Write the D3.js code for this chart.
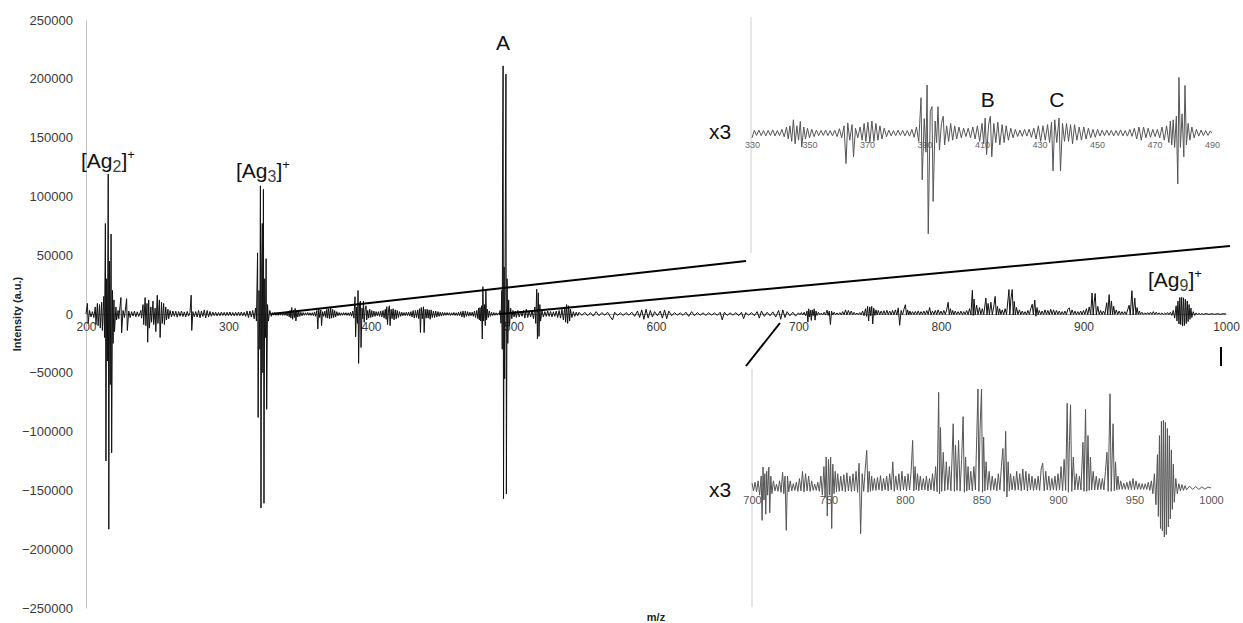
<!DOCTYPE html>
<html>
<head>
<meta charset="utf-8">
<script src="https://cdn.jsdelivr.net/npm/d3@7"></script>
<style>
  body { margin: 0; background: #fff; }
  svg { display: block; font-family: "Liberation Sans", Arial, sans-serif; }
</style>
</head>
<body>
<div class="canvas"></div>
<script>
// m/z, intensity pairs (200 - 330)
const spec200 = [
  [200, 0], [201, 9000], [201.5, -8000], [202.5, 3000], [203.5, -2500], [204.5, 2000], [205.5, -3000], [206.5, 6000], [207, -9000],
  [208, 9000], [208.5, -10000], [209.5, 8000], [210, -12000], [211, 10000], [211.5, -14000], [212.5, 15000], [213, -20000],
  [213.6, 77000], [214, -125000], [214.5, 30000], [215, -40000], [215.6, 119000], [216, -183000], [216.5, 45000], [217, -60000],
  [217.6, 68000], [218, -118000], [218.6, 20000], [219, -25000], [219.6, 12000], [220, -15000], [221, 6000], [221.5, -5000],
  [222.5, 3000], [223, -4000], [224.5, 14000], [225, -16000], [226, 3000], [227, -3000], [228.5, 13000], [229, -14000], [230, 2500],
  [231, -3000], [232, 2000], [233, -1800], [234, 2500], [235, -2400], [236, 1900], [237, -2100], [238.5, 3000], [239, -3500],
  [240, 8000], [240.5, -9000], [241.5, 14000], [242, -10000], [242.8, 9000], [243.3, -24000], [244, 12000], [244.5, -12000],
  [245.5, 6000], [246, -7000], [247, 11000], [247.5, -9000], [248.5, 5000], [249, -15000], [250, 16000], [250.5, -8000],
  [251.5, 12000], [252, -20000], [253, 10000], [253.5, -8000], [254.5, 9000], [255, -9000], [256, 6000], [256.5, -5000],
  [257.5, 4000], [258, -4000], [259, 3000], [260, -2500], [261, 2600], [262, -2000], [263, 2400], [264, -2700], [265, 2100],
  [266, -1900], [267, 2500], [268, -2200], [269, 1800], [270, -2500], [271, 2200], [272, -1800], [273, 1500], [273.8, 16000],
  [274.2, -14000], [275, 2000], [276, -2300], [277, 2100], [278, -2600], [279, 3000], [280, -3200], [281, 2500], [282, -2100],
  [283, 3500], [284, -3400], [285, 3000], [286, -2500], [287, 2200], [288, -1900], [289, 1600], [290, -1400], [291, 1500],
  [292, -1700], [293, 1300], [294, -1500], [295, 1600], [296, -1300], [297, 1400], [298, -1600], [299, 1500], [300, -1400],
  [301, 1700], [302, -1500], [303, 1300], [304, -1600], [305, 1500], [306, -1400], [307, 1600], [308, -1500], [309, 1700],
  [310, -1600], [311, 1500], [312, -2000], [313, 2500], [314, -3000], [315, 2600], [316, -2500], [317, 3000], [318, -4000],
  [319, 5000], [319.6, -6000],
  [320.4, 52000], [320.8, -88000], [321.4, 20000], [322, -30000], [322.4, 109000], [322.8, -165000], [323.3, 40000],
  [323.7, 77000], [324.1, -50000], [324.5, 106000], [324.9, -161000], [325.4, 30000], [326, -20000], [326.4, 47000],
  [326.8, -81000], [327.4, 8000], [328, -6000], [329, 3000], [330, -2000]
];

// 330 - 490 (also shown in the upper x3 inset)
const spec330 = [
  [330.8, 1100], [331.6, -1000], [332.4, 1200], [333.2, -1100], [334, 1000], [334.8, -1200], [335.6, 1100], [336.4, -1000],
  [337.2, 1300], [338, -1200], [338.8, 1000], [339.6, -1100], [340.4, 1500], [341.2, -1600], [342, 2500], [342.6, -2500],
  [343.2, 3000], [343.8, -3500], [344.4, 5500], [345, -4500], [345.6, 3000], [346.2, -3000], [346.8, 4800], [347.3, -5900],
  [348, 2500], [348.6, -2500], [349.3, 2000], [350, -2000], [350.8, 1500], [351.6, -1500], [352.4, 1200], [353.2, -1100],
  [354, 1000], [354.8, -1000], [355.6, 1200], [356.4, -1100], [357.2, 1000], [358, -1200], [358.8, 1100], [359.6, -1500],
  [360.4, 1800], [361.2, -2000], [362, 3000], [362.7, -12700], [363.3, 4200], [364, -3000], [364.8, 3500], [365.3, -9900],
  [366, 2000], [366.8, -2000], [367.6, 2500], [368.3, -3000], [369, 4000], [369.6, -3500], [370.3, 4500], [371, -4000],
  [371.7, 5000], [372.4, -3500], [373.1, 4000], [373.8, -3000], [374.5, 3000], [375.2, -2500], [376, 2000], [376.8, -1500],
  [377.6, 1200], [378.4, -1200], [379.2, 1000], [380, -1100], [380.8, 1200], [381.6, -1000], [382.4, 1100], [383.2, -1200],
  [384, 1000], [384.8, -1300], [385.6, 1500], [386.4, -1800], [387.2, 2500], [388, -3500], [388.8, 14700], [389.2, -19500],
  [389.9, 6000], [390.5, -8000], [390.9, 20000], [391.3, -42000], [392, 9000], [392.6, 11000], [393, -28500], [393.7, 5000],
  [394.2, -4000], [394.7, 11000], [395.2, -7100], [395.9, 4000], [396.5, 7000], [397, -5000], [397.7, 3000], [398.4, -3500],
  [399.1, 4000], [399.8, -3000], [400.5, 3000], [401.2, -2500], [402, 2500], [402.8, -2000], [403.6, 2000], [404.4, -1500],
  [405.2, 2000], [406, -2000], [406.8, 2500], [407.6, -2500], [408.4, 3000], [409.2, -3500], [410, 4000], [410.6, -4500],
  [411.1, 6200], [411.6, -9000], [412.3, 3500], [412.9, 7000], [413.4, -9900], [414.1, 4000], [414.8, -4000], [415.5, 4500],
  [416.2, -5000], [417, 3500], [417.7, -4000], [418.4, 3000], [419.2, -3000], [420, 2000], [420.8, -2000], [421.6, 1500],
  [422.4, -1500], [423.2, 1200], [424, -1400], [424.8, 1500], [425.6, -1300], [426.4, 1600], [427.2, -1800], [428, 2000],
  [428.8, -2500], [429.6, 3000], [430.4, -3500], [431.2, 3000], [432, -3000], [432.8, 3500], [433.5, -4000], [434.2, 4500],
  [434.7, -15800], [435.3, 5500], [436, -4000], [436.8, 6200], [437.3, -15800], [438, 4000], [438.7, -3500], [439.4, 4000],
  [440.1, -3500], [440.8, 3500], [441.5, -4500], [442.2, 3500], [443, -3000], [443.8, 2500], [444.6, -3000], [445.4, 2500],
  [446.2, -2500], [447, 2000], [447.8, -2000], [448.6, 1500], [449.4, -1800], [450.2, 1500], [451, -1300], [451.8, 1200],
  [452.6, -1100], [453.4, 1200], [454.2, -1000], [455, 1100], [455.8, -1200], [456.6, 1000], [457.4, -1100], [458.2, 1300],
  [459, -1200], [459.8, 1000], [460.6, -1300], [461.4, 1500], [462.2, -1400], [463, 2000], [463.8, -2500], [464.6, 2500],
  [465.4, -3000], [466.2, 2500], [467, -2000], [467.8, 2000], [468.6, -1800], [469.4, 1500], [470.2, -1500], [471, 1500],
  [471.8, -2000], [472.6, 2500], [473.4, -3000], [474.2, 3000], [475, -4000], [475.5, 5000], [476, -5000], [476.5, 5500],
  [477, -6000], [477.6, 7000], [478.1, -21200], [478.5, 23200], [479, -6000], [479.6, 8000], [480.2, -9900], [480.6, 19800],
  [481.1, -5000], [481.7, 4000], [482.3, -3000], [483, 2500], [483.8, -2000], [484.6, 1500], [485.4, -1300], [486.2, 1200],
  [487, -1100], [487.8, 1000], [488.6, -1000], [489.4, 900], [490, 0]
];

// 490 - 700, peak A
const spec490 = [
  [490.6, 3000], [491.2, -8000], [491.8, 20000], [492.1, -30000], [492.4, 141000], [492.7, 211000], [493, -157000],
  [493.4, 40000], [493.8, -55000], [494.2, 71000], [494.7, 204000], [495, -153000], [495.5, 30000], [496, -25000],
  [496.6, 12000], [497.2, -10000], [498, 5000], [498.8, -4000], [499.6, 3000], [500.4, -2500], [501.2, 2500], [502, -3000],
  [503, 3000], [504, -2500], [505, 2000], [506, -2000], [507, 3000], [508, -3500], [509, 4000], [510, -3000], [511, 2500],
  [512, -2500], [513, 3000], [514, -4000], [515, 6000], [515.6, -8000], [516.3, 21000], [516.8, -21000], [517.4, 18000],
  [517.9, -19000], [518.5, 8000], [519, -6000], [520, 3000], [521, -2500], [522, 2000], [523, -2000], [524, 2500], [525, -2000],
  [526, 2100], [527, -2500], [528, 1900], [529, -2000], [530, 2500], [531, -3000], [532, 3000], [533, -3500], [534, 4000],
  [535, -5000], [536, 6000], [536.6, -7000], [537.3, 8000], [538, -8000], [538.7, 7000], [539.4, -6000], [540, 4000],
  [541, -3000], [542, 2000], [543, -2000], [544, 1500], [545, -1500], [546, 1500], [548, -1200], [550, 1400], [552, -1500],
  [554, 1200], [556, -1800], [558, 2000], [560, -1500], [562, 1200], [564, -1000], [566, 1500], [568, -2500], [569.5, -5000],
  [571, 1500], [573, -1200], [575, 1000], [577, -1300], [579, 1200], [581, -1000], [583, 1500], [585, -2000], [587, 2500],
  [588.5, -3000], [590, 3500], [591.5, -4500], [593, 4000], [594.5, -3500], [596, 3000], [597.5, -2500], [599, 2000],
  [601, -1500], [603, 2500], [604.5, -3500], [606, 3500], [607.5, -4000], [609, 2500], [611, -1500], [613, 1200], [615, -1000],
  [617, 1000], [619, -1200], [621, 1500], [623, -2000], [625, 2000], [627, -1500], [629, 1200], [631, -1000], [633, 1000],
  [635, -1200], [637, 1100], [639, -1000], [641, 1000], [643, -1200], [645, 1500], [646.5, -5000], [648, 1500], [650, -1200],
  [652, 1000], [654, -1000], [656, 1200], [658, -1500], [660, 1500], [661.5, -4000], [663, 1200], [665, -1000], [667, 1200],
  [669, -1500], [671, 2000], [672.5, -3500], [674, 2500], [676, -2000], [678, 1500], [680, -1500], [682, 1800], [684, -2500],
  [686, 3000], [687.5, -4500], [689, 3500], [690.5, -3000], [692, 2000], [694, -1500], [696, 1500], [698, -1800], [700, 1000]
];

// 700 - 1000 (also shown in the lower x3 inset), [Ag9]+ near 970
const spec700 = [
  [701, -600], [702, 1200], [703, -800], [704, 1500], [705, -1500], [706, 2500], [706.6, -6800], [707.2, 4400], [707.8, -2500],
  [708.4, 3000], [709, -5500], [709.6, 3500], [710.2, -1500], [711, 4400], [711.6, -5200], [712.3, 2500], [713, -1200],
  [714, 1500], [715, -600], [716, 800], [717, -700], [718, 1500], [719, -900], [720, 3300], [720.8, -1200], [721.6, 2500],
  [722.4, -8900], [723.2, 2500], [724, -800], [725, 1500], [726, -600], [727, 900], [728, -500], [729, 1200], [730, -700],
  [731, 2000], [732, -600], [733, 3500], [734, -800], [735, 3000], [736, -600], [737, 2500], [738, -700], [739, 1500],
  [740, -500], [741, 800], [742, -500], [743, 1200], [744, -700], [745, 2500], [746, -1500], [747, 4500], [747.8, -2000],
  [748.5, 6500], [749.2, -5900], [750, 6000], [750.7, -1500], [751.4, 6500], [752.1, -8500], [752.8, 5000], [753.6, -1200],
  [754.4, 3500], [755.2, -800], [756, 3000], [757, -700], [758, 2500], [759, -600], [760, 2800], [761, -800], [762, 3200],
  [763, -600], [764, 2500], [765, -700], [766, 3000], [767, -600], [768, 3500], [769, -900], [770, 5200], [771, -9600],
  [772, 3000], [773, -700], [774, 4000], [775, 7900], [775.8, -900], [776.6, 3500], [777.4, -700], [778.2, 2500],
  [779, -500], [780, 2000], [781, -500], [782, 2200], [783, -400], [784, 2600], [785, -600], [786, 2000], [787, -400],
  [788, 2500], [789, -600], [790, 3000], [791, -400], [792, 5500], [793, -700], [794, 2500], [795, -400], [796, 3000],
  [797, -600], [798, 3500], [799, -400], [800, 2500], [801, -600], [802, 3000], [803, -400], [804, 3500], [805, 10000],
  [805.8, -600], [806.6, 4500], [807.4, -400], [808.2, 3000], [809, -600], [810, 2500], [811, -400], [812, 2000],
  [813, -400], [814, 2500], [815, -600], [816, 2000], [817, -400], [818, 3000], [819, -600], [820, 4500], [821, -800],
  [822, 20100], [822.6, -1200], [823.2, 12700], [824, -700], [825, 7500], [826, -600], [827, 5500], [828, -400], [829, 4500],
  [830, -600], [831.5, 13500], [832.3, -700], [833, 9000], [834, -500], [835, 10000], [836, -600], [837, 6000],
  [838, 15000], [838.8, -900], [839.6, 6500], [840.4, -600], [841.2, 4500], [842, -400], [843, 3500], [844, -600],
  [845, 4500], [846, -400], [847.7, 20800], [848.3, -700], [849, 12000], [850, 20800], [850.7, -900], [851.4, 10700],
  [852.2, -600], [853, 5500], [854, -400], [855, 3500], [856, -500], [857, 2500], [858, -400], [859, 2000], [860, -600],
  [861, 3000], [862, -400], [863, 4500], [864, 8300], [864.8, -700], [865.8, 11900], [866.6, -1900], [867.4, 5500],
  [868.2, -600], [869, 3000], [870, -400], [871, 2500], [872, -500], [873, 3500], [874, -400], [875, 3000], [876, -600],
  [877, 4000], [878, -400], [879, 3500], [880, -600], [881, 3000], [882, -400], [883, 2500], [884, -500], [885, 2000],
  [886, -400], [887, 2500], [888, -500], [889, 4000], [890, 5200], [891, -600], [892, 3500], [893, -400], [894, 2500],
  [895, -500], [896, 2000], [897, -400], [898, 2500], [899, -500], [900, 3000], [901, -400], [902, 4500], [903, -600],
  [904, 6000], [905, -500], [906, 17800], [906.8, -900], [907.5, 10000], [908.2, 17500], [909, -700], [910, 6500],
  [911, -400], [912, 3000], [913, -400], [914, 2500], [915, -400], [916.3, 9600], [917, -700], [918, 16500],
  [918.8, -700], [919.6, 11000], [920.4, -500], [921.2, 6500], [922, -400], [923, 3500], [924, -400], [925, 2500],
  [926, -400], [927, 2000], [928, -300], [929, 2000], [930, -400], [931, 3500], [932, 7500], [932.8, -700], [934, 19800],
  [934.8, -700], [936, 13500], [936.8, -600], [937.6, 5500], [938.4, -400], [939.2, 2500], [940, -300], [941, 1500],
  [942, -300], [943, 1000], [944, -300], [945, 1200], [946, -300], [947, 1500], [948, -300], [949, 2000], [950, -400],
  [951, 1500], [952, -300], [953, 1000], [954, -300], [955, 900], [956, -300], [957, 900], [958, -300], [959, 1200],
  [960, -500], [961, 1500], [962, -1200], [963, 3000], [964, -3500], [965, 7000], [965.6, -6000], [966.3, 11000],
  [967, -8500], [967.6, 14000], [968.2, -9000], [968.9, 14200], [969.5, -10300], [970.2, 13800], [970.8, -9800],
  [971.5, 12500], [972.1, -8200], [972.8, 11000], [973.4, -6500], [974.1, 8000], [974.7, -4500], [975.4, 5000], [976, -3000],
  [977, 2000], [978, -1200], [979, 900], [980, -600], [981, 700], [982, -500], [983, 500], [984, -400], [986, 400],
  [988, -300], [990, 300], [992, -300], [994, 250], [996, -250], [998, 200], [1000, 0]
];

const yTicks = [250000, 200000, 150000, 100000, 50000, 0, -50000, -100000, -150000, -200000, -250000];
const xTicks = [200, 300, 400, 500, 600, 700, 800, 900, 1000];
const inset1Ticks = [330, 350, 370, 390, 410, 430, 450, 470, 490];
const inset2Ticks = [700, 750, 800, 850, 900, 950, 1000];
const zoomFactor = 3;

const spectrum = [].concat(spec200, spec330, spec490, spec700);

const svg = d3.select('.canvas').append('svg')
    .attr('width', 1243)
    .attr('height', 623);

// main scales
const x = d3.scaleLinear().domain([200, 1000]).range([86, 1226]);
const y = d3.scaleLinear().domain([-250000, 250000]).range([608, 20]);

// y axis (gray line + labels)
const yAxis = svg.append('g')
    .attr('transform', `translate(${x(200)},0)`)
    .call(d3.axisLeft(y).tickValues(yTicks).tickSize(0).tickSizeOuter(0).tickPadding(13).tickFormat(d3.format('d')));
yAxis.select('.domain').attr('stroke', '#c4c4c4');
yAxis.selectAll('text')
    .attr('font-family', 'Liberation Sans, Arial, sans-serif')
    .attr('font-size', 13)
    .attr('fill', '#3a3a3a');

// x axis labels sit just under the zero line
const xAxis = svg.append('g')
    .attr('transform', `translate(0,${y(0)})`)
    .call(d3.axisBottom(x).tickValues(xTicks).tickSize(0).tickSizeOuter(0).tickPadding(8).tickFormat(d3.format('d')));
xAxis.select('.domain').attr('stroke', '#999');
xAxis.selectAll('text')
    .attr('font-family', 'Liberation Sans, Arial, sans-serif')
    .attr('font-size', 12)
    .attr('fill', '#3a3a3a');

// axis titles
svg.append('text')
    .attr('transform', `translate(17,${y(0)}) rotate(-90)`)
    .attr('text-anchor', 'middle')
    .attr('dy', '0.35em')
    .attr('font-size', 11)
    .attr('font-weight', 'bold')
    .attr('fill', '#222')
    .text('Intensity (a.u.)');

svg.append('text')
    .attr('x', 656)
    .attr('y', 621)
    .attr('text-anchor', 'middle')
    .attr('font-size', 11)
    .attr('font-weight', 'bold')
    .attr('fill', '#222')
    .text('m/z');

// main trace
const mainLine = d3.line().x(d => x(d[0])).y(d => y(d[1]));
svg.append('path')
    .datum(spectrum)
    .attr('d', mainLine)
    .attr('fill', 'none')
    .attr('stroke', '#111')
    .attr('stroke-width', 1);

// ---- upper inset: 330-490, x3 ----
const xi1 = d3.scaleLinear().domain([330, 490]).range([752, 1212]);
const yi1 = d3.scaleLinear().domain([-150000, 150000]).range([253, 13]);

svg.append('line')
    .attr('x1', xi1(330) - 1).attr('x2', xi1(330) - 1)
    .attr('y1', 17).attr('y2', 253)
    .attr('stroke', '#cfcfcf');

const in1 = svg.append('g')
    .attr('transform', `translate(0,${yi1(0)})`)
    .call(d3.axisBottom(xi1).tickValues(inset1Ticks).tickSize(0).tickSizeOuter(0).tickPadding(9));
in1.select('.domain').remove();
in1.selectAll('text')
    .attr('font-family', 'Liberation Sans, Arial, sans-serif')
    .attr('font-size', 9)
    .attr('fill', '#666');

const inset1Line = d3.line().x(d => xi1(d[0])).y(d => yi1(d[1] * zoomFactor));
svg.append('path')
    .datum(spectrum.filter(d => d[0] >= 330 && d[0] <= 490))
    .attr('d', inset1Line)
    .attr('fill', 'none')
    .attr('stroke', '#555')
    .attr('stroke-width', 1);

// ---- lower inset: 700-1000, x3 ----
const xi2 = d3.scaleLinear().domain([700, 1000]).range([752, 1211]);
const yi2 = d3.scaleLinear().domain([-75000, 75000]).range([607, 369]);

svg.append('line')
    .attr('x1', xi2(700)).attr('x2', xi2(700))
    .attr('y1', 369).attr('y2', 607)
    .attr('stroke', '#cfcfcf');

const in2 = svg.append('g')
    .attr('transform', `translate(0,${yi2(0)})`)
    .call(d3.axisBottom(xi2).tickValues(inset2Ticks).tickSize(0).tickSizeOuter(0).tickPadding(8).tickFormat(d3.format('d')));
in2.select('.domain').remove();
in2.selectAll('text')
    .attr('font-family', 'Liberation Sans, Arial, sans-serif')
    .attr('font-size', 11)
    .attr('fill', '#555');

const inset2Line = d3.line().x(d => xi2(d[0])).y(d => yi2(d[1] * zoomFactor));
svg.append('path')
    .datum(spectrum.filter(d => d[0] >= 700 && d[0] <= 1000))
    .attr('d', inset2Line)
    .attr('fill', 'none')
    .attr('stroke', '#555')
    .attr('stroke-width', 1);

// guide lines pointing from the spectrum to the insets
const guides = [
  [[x(330), y(0)], [xi1(330) - 6, yi1(-150000) + 8]],
  [[x(490), y(0)], [x(1000) + 4, 246]],
  [[x(687), y(0) + 9], [xi2(700) - 6, yi2(75000) - 3]],
  [[x(1000) - 5, 347], [x(1000) - 5, 366]]
];
svg.selectAll('.guide')
    .data(guides)
    .join('line')
    .attr('class', 'guide')
    .attr('x1', d => d[0][0]).attr('y1', d => d[0][1])
    .attr('x2', d => d[1][0]).attr('y2', d => d[1][1])
    .attr('stroke', '#000')
    .attr('stroke-width', 2);

// peak labels
function clusterLabel(px, py, n) {
  const t = svg.append('text')
      .attr('x', px)
      .attr('y', py)
      .attr('font-size', 21)
      .attr('fill', '#111');
  t.append('tspan').text('[Ag');
  t.append('tspan').attr('dy', 4).attr('font-size', 16).attr('fill', '#444').text(n);
  t.append('tspan').attr('dy', -4).text(']');
  t.append('tspan').attr('dy', -9).attr('font-size', 13).text('+');
}
clusterLabel(81, 168, '2');
clusterLabel(236, 178, '3');
clusterLabel(1148, 287, '9');

const letters = [
  { t: 'A', px: x(492.7), py: 50 },
  { t: 'B', px: xi1(412), py: 107 },
  { t: 'C', px: xi1(436), py: 107 }
];
svg.selectAll('.letter')
    .data(letters)
    .join('text')
    .attr('class', 'letter')
    .attr('x', d => d.px)
    .attr('y', d => d.py)
    .attr('text-anchor', 'middle')
    .attr('font-size', 21)
    .attr('fill', '#111')
    .text(d => d.t);

// x3 markers
svg.append('text')
    .attr('x', 709).attr('y', 139)
    .attr('font-size', 21).attr('fill', '#111')
    .text('x3');
svg.append('text')
    .attr('x', 709).attr('y', 497)
    .attr('font-size', 21).attr('fill', '#111')
    .text('x3');
</script>
</body>
</html>
